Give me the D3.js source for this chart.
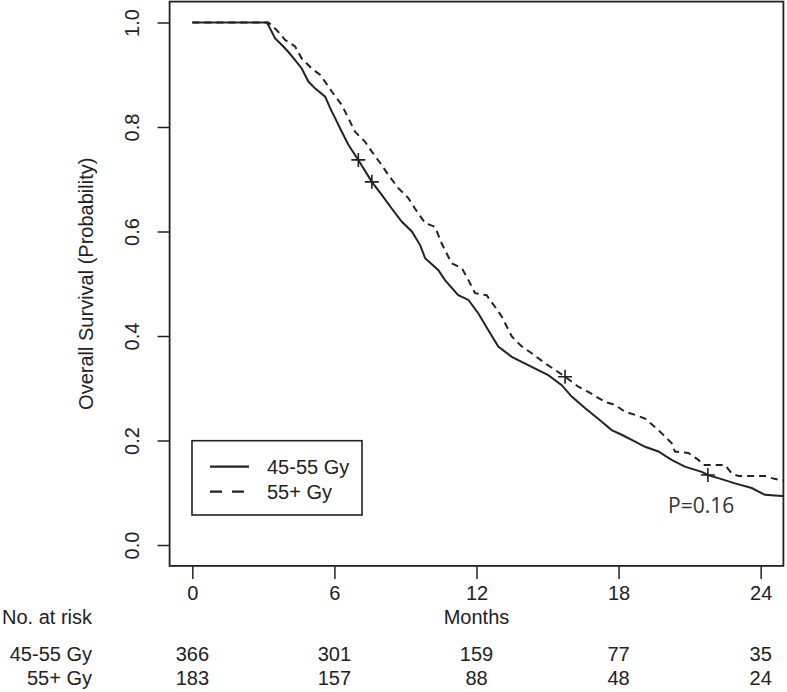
<!DOCTYPE html>
<html>
<head>
<meta charset="utf-8">
<script src="https://cdn.jsdelivr.net/npm/d3@7"></script>
<style>
  html, body { margin: 0; padding: 0; background: #fff; }
  svg { display: block; }
  text { font-family: "Liberation Sans", Arial, sans-serif; fill: #222; }
</style>
</head>
<body>
<svg id="chart" width="787" height="692"></svg>
<script>
// ---- data ----
const groups = ["45-55 Gy", "55+ Gy"];
const xTicks = [0, 6, 12, 18, 24];
const yTicks = [0.0, 0.2, 0.4, 0.6, 0.8, 1.0];

// 45-55 Gy (solid) curve: times (months) and survival
const timeA = [0, 3.14, 3.21, 3.49, 3.78, 4.05, 4.34, 4.62, 4.90, 5.18, 5.61, 5.82, 6.03, 6.31, 6.59, 7.01, 7.58, 8.00, 8.42, 8.84, 9.27, 9.62, 9.83, 10.39, 10.67, 11.23, 11.66, 12.08, 12.50, 12.92, 13.49, 14.33, 15.03, 15.60, 16.02, 16.58, 17.29, 17.71, 18.13, 18.70, 19.12, 19.68, 20.24, 20.80, 21.51, 21.77, 22.21, 22.92, 23.62, 24.18, 24.89];
const survA = [1.0, 1.0, 0.995, 0.970, 0.957, 0.944, 0.928, 0.912, 0.887, 0.874, 0.858, 0.836, 0.817, 0.791, 0.766, 0.737, 0.695, 0.670, 0.644, 0.619, 0.600, 0.574, 0.549, 0.526, 0.507, 0.478, 0.469, 0.443, 0.411, 0.380, 0.360, 0.341, 0.325, 0.306, 0.284, 0.262, 0.236, 0.220, 0.211, 0.198, 0.188, 0.179, 0.163, 0.150, 0.140, 0.134, 0.128, 0.118, 0.109, 0.096, 0.094];
const censorTimeA = [7.01, 7.58, 21.77];
const censorSurvA = [0.737, 0.695, 0.134];

// 55+ Gy (dashed) curve
const timeB = [0, 3.21, 3.35, 3.63, 3.91, 4.34, 4.62, 5.04, 5.39, 5.60, 5.89, 6.31, 6.59, 6.87, 7.29, 7.58, 8.00, 8.28, 8.70, 9.12, 9.40, 9.69, 9.83, 10.25, 10.53, 10.95, 11.38, 11.66, 11.94, 12.43, 12.78, 13.07, 13.49, 13.91, 14.33, 14.89, 15.32, 15.74, 16.30, 16.72, 17.43, 17.85, 18.27, 18.70, 19.12, 19.68, 20.24, 20.38, 20.95, 21.37, 21.58, 22.50, 22.78, 23.06, 24.18, 24.47, 24.82];
const survB = [1.0, 1.0, 0.995, 0.982, 0.967, 0.954, 0.931, 0.912, 0.900, 0.887, 0.868, 0.842, 0.817, 0.791, 0.772, 0.753, 0.727, 0.708, 0.683, 0.664, 0.644, 0.625, 0.616, 0.609, 0.577, 0.539, 0.530, 0.507, 0.482, 0.478, 0.456, 0.437, 0.399, 0.380, 0.367, 0.348, 0.335, 0.322, 0.303, 0.293, 0.274, 0.268, 0.255, 0.249, 0.242, 0.220, 0.195, 0.179, 0.176, 0.163, 0.153, 0.153, 0.137, 0.132, 0.132, 0.128, 0.124];
const censorTimeB = [15.74];
const censorSurvB = [0.322];

// number at risk
const riskA = [366, 301, 159, 77, 35];
const riskB = [183, 157, 88, 48, 24];
const pValueLabel = "P=0.16";

// ---- drawing ----
const svg = d3.select("#chart");
const ink = "#222";

const x = d3.scaleLinear().domain([-0.96, 24.96]).range([169.6, 783.4]);
const y = d3.scaleLinear().domain([-0.04, 1.04]).range([565.9, 1.6]);

svg.append("defs").append("clipPath").attr("id", "plotclip")
  .append("rect")
  .attr("x", x.range()[0]).attr("y", y.range()[1])
  .attr("width", x.range()[1] - x.range()[0])
  .attr("height", y.range()[0] - y.range()[1]);

// axes
const yAxis = d3.axisLeft(y).tickValues(yTicks).tickFormat(d3.format(".1f")).tickSize(12).tickPadding(0);
const gy = svg.append("g").attr("transform", `translate(${x.range()[0]},0)`).call(yAxis);
gy.select(".domain").remove();
gy.selectAll(".tick line").attr("stroke", ink).attr("stroke-width", 1.5);
gy.selectAll(".tick text")
  .attr("x", null).attr("dy", null)
  .attr("transform", "translate(-38,0) rotate(-90)")
  .attr("text-anchor", "middle")
  .attr("dominant-baseline", "central")
  .style("font-size", "20px").style("fill", ink);

const xAxis = d3.axisBottom(x).tickValues(xTicks).tickSize(13).tickPadding(0);
const gx = svg.append("g").attr("transform", `translate(0,${y.range()[0]})`).call(xAxis);
gx.select(".domain").remove();
gx.selectAll(".tick line").attr("stroke", ink).attr("stroke-width", 1.5);
gx.selectAll(".tick text")
  .attr("y", 27).attr("dy", null)
  .attr("dominant-baseline", "central")
  .style("font-size", "20px").style("fill", ink);

// plot box
svg.append("rect")
  .attr("x", x.range()[0]).attr("y", y.range()[1])
  .attr("width", x.range()[1] - x.range()[0])
  .attr("height", y.range()[0] - y.range()[1])
  .attr("fill", "none").attr("stroke", ink).attr("stroke-width", 1.8);

// curves
const line = d3.line().x(d => x(d[0])).y(d => y(d[1])).curve(d3.curveLinear);
const plot = svg.append("g").attr("clip-path", "url(#plotclip)");
const dataA = timeA.map((t, i) => [t, survA[i]]);
const dataB = timeB.map((t, i) => [t, survB[i]]);
dataA.push([25.5, survA[survA.length - 1]]);
dataB.push([25.5, survB[survB.length - 1]]);

plot.append("path").datum(dataB).attr("d", line)
  .attr("fill", "none").attr("stroke", ink).attr("stroke-width", 2)
  .attr("stroke-dasharray", "7,5");
plot.append("path").datum(dataA).attr("d", line)
  .attr("fill", "none").attr("stroke", ink).attr("stroke-width", 2);

// censor marks
function plus(g, ts, ss) {
  ts.forEach((t, i) => {
    const cx = x(t), cy = y(ss[i]);
    g.append("path")
      .attr("d", `M${cx - 7},${cy}H${cx + 7}M${cx},${cy - 7}V${cy + 7}`)
      .attr("stroke", ink).attr("stroke-width", 1.6).attr("fill", "none");
  });
}
plus(plot, censorTimeA, censorSurvA);
plus(plot, censorTimeB, censorSurvB);

// legend
const lg = svg.append("g");
lg.append("rect").attr("x", 192).attr("y", 440.7).attr("width", 170).attr("height", 74.3)
  .attr("fill", "#fff").attr("stroke", ink).attr("stroke-width", 1.6);
const legendDash = [null, "12,10"];
groups.forEach((g, i) => {
  const ly = 466.7 + i * 25;
  lg.append("line").attr("x1", 210).attr("x2", 249).attr("y1", ly).attr("y2", ly)
    .attr("stroke", ink).attr("stroke-width", 2.2)
    .attr("stroke-dasharray", legendDash[i]);
  lg.append("text").attr("x", 267).attr("y", ly).attr("dominant-baseline", "central")
    .style("font-size", "20px").text(g);
});

// p value
svg.append("text").attr("x", 668).attr("y", 513)
  .style("font-family", "'Open Sans', sans-serif").style("font-size", "21px").style("fill", "#333")
  .text(pValueLabel);

// axis titles
svg.append("text")
  .attr("transform", `translate(86,${(y.range()[0] + y.range()[1]) / 2}) rotate(-90)`)
  .attr("text-anchor", "middle").attr("dominant-baseline", "central")
  .style("font-size", "20px").text("Overall Survival (Probability)");
svg.append("text").attr("x", x(12)).attr("y", 617)
  .attr("text-anchor", "middle").attr("dominant-baseline", "central")
  .style("font-size", "20px").text("Months");

// risk table
svg.append("text").attr("x", 2).attr("y", 617).attr("dominant-baseline", "central")
  .style("font-size", "20px").text("No. at risk");
[riskA, riskB].forEach((row, r) => {
  const ry = r === 0 ? 653.7 : 678;
  svg.append("text").attr("x", 92).attr("y", ry).attr("text-anchor", "end")
    .attr("dominant-baseline", "central").style("font-size", "20px").text(groups[r]);
  row.forEach((v, i) => {
    svg.append("text").attr("x", x(xTicks[i])).attr("y", ry).attr("text-anchor", "middle")
      .attr("dominant-baseline", "central").style("font-size", "20px").text(v);
  });
});
</script>
</body>
</html>
